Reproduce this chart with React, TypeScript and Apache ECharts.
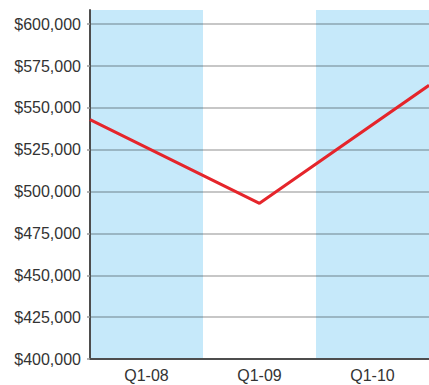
import React, { useEffect, useRef } from "react";
import * as echarts from "echarts";

const categories = ["Q1-08", "Q1-09", "Q1-10"];
const lineValues = [543000, 493000, 563500];
const yTicks = [400000, 425000, 450000, 475000, 500000, 525000, 550000, 575000, 600000];
const yMin = 400000;
const yMax = 608500;

const fmt = (v: number) => "$" + v.toLocaleString("en-US");

export default function App() {
  const ref = useRef<HTMLDivElement>(null);
  useEffect(() => {
    if (!ref.current) return;
    const chart = echarts.init(ref.current, null, { renderer: "svg" });
    chart.setOption({
      animation: false,
      backgroundColor: "#ffffff",
      grid: { left: 90, right: 0, top: 10, bottom: 26, containLabel: false },
      xAxis: [
        {
          type: "category",
          data: categories,
          boundaryGap: true,
          axisLine: { show: true, lineStyle: { color: "#4d4d4d", width: 2 } },
          axisTick: { show: false },
          axisLabel: {
            color: "#333333",
            fontSize: 16,
            fontFamily: "Liberation Sans, Arial, sans-serif",
            margin: 8,
          },
          splitLine: { show: false },
          splitArea: {
            show: true,
            areaStyle: { color: ["#c6e9fa", "#ffffff"] },
          },
          z: 0,
        },
        {
          type: "category",
          data: categories,
          boundaryGap: false,
          show: false,
          position: "bottom",
        },
      ],
      yAxis: {
        type: "value",
        min: yMin,
        max: yMax,
        interval: 25000,
        z: 3,
        axisLine: { show: true, lineStyle: { color: "#4d4d4d", width: 2 } },
        axisTick: {
          show: true,
          length: 3,
          customValues: yTicks,
          lineStyle: { color: "#9a9a9a", width: 1.5 },
        },
        axisLabel: {
          color: "#333333",
          fontSize: 16,
          fontFamily: "Liberation Sans, Arial, sans-serif",
          margin: 9,
          padding: [0, 0, 6, 0],
          customValues: yTicks,
          formatter: (v: number) => fmt(v),
        },
        splitLine: {
          show: true,
          showMinLine: false,
          lineStyle: { color: "rgba(0,0,0,0.22)", width: 2 },
        },
      },
      series: [
        {
          type: "line",
          xAxisIndex: 1,
          data: lineValues,
          symbol: "none",
          lineStyle: { color: "#e5252b", width: 3 },
          z: 5,
        },
      ],
    });
    return () => chart.dispose();
  }, []);
  return (
    <div
      ref={ref}
      style={{ position: "fixed", left: 0, top: 0, width: 429, height: 385 }}
    />
  );
}
